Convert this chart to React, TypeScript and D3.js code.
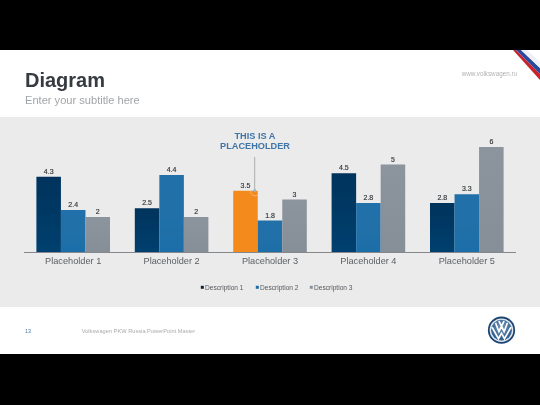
import React from "react";
import * as d3 from "d3";

const categories = ["Placeholder 1", "Placeholder 2", "Placeholder 3", "Placeholder 4", "Placeholder 5"];
const seriesNames = ["Description 1", "Description 2", "Description 3"];
const desc1 = [4.3, 2.5, 3.5, 4.5, 2.8];
const desc2 = [2.4, 4.4, 1.8, 2.8, 3.3];
const desc3 = [2, 2, 3, 5, 6];
const seriesValues = [desc1, desc2, desc3];
const seriesFill = ["url(#navy)", "url(#blue)", "url(#gray)"];
const legendColors = ["#0f2438", "#1f6ca6", "#8a929c"];
const highlightIndex = 2;

const sans = "'Liberation Sans', Arial, sans-serif";

export default function App() {
  const x0 = d3.scaleBand<string>().domain(categories).range([24, 516]).paddingInner(0.252).paddingOuter(0.126);
  const x1 = d3.scaleBand<number>().domain([0, 1, 2]).range([0, x0.bandwidth()]);
  const y = d3.scaleLinear().domain([0, 6]).range([252, 147]);
  const legendX = [205, 260, 314];

  return (
    <svg width={540} height={405} viewBox="0 0 540 405" style={{ position: "absolute", left: 0, top: 0, fontFamily: sans }}>
      <defs>
        <linearGradient id="navy" x1="0" y1="0" x2="0" y2="1">
          <stop offset="0" stopColor="#04335c" />
          <stop offset="1" stopColor="#03406f" />
        </linearGradient>
        <linearGradient id="blue" x1="0" y1="0" x2="0" y2="1">
          <stop offset="0" stopColor="#2170a9" />
          <stop offset="1" stopColor="#1f6ea8" />
        </linearGradient>
        <linearGradient id="gray" x1="0" y1="0" x2="0" y2="1">
          <stop offset="0" stopColor="#8c949e" />
          <stop offset="1" stopColor="#868e98" />
        </linearGradient>
        <radialGradient id="vwInner" cx="0.5" cy="0.35" r="0.75">
          <stop offset="0" stopColor="#6f93b8" />
          <stop offset="1" stopColor="#1f4f82" />
        </radialGradient>
        <filter id="soft" x="-2%" y="-2%" width="104%" height="104%">
          <feGaussianBlur stdDeviation="0.4" />
        </filter>
      </defs>

      <rect x={0} y={0} width={540} height={405} fill="#000" />
      <rect x={0} y={50} width={540} height={304} fill="#fff" />
      <rect x={0} y={117} width={540} height={190} fill="#ebebeb" />

      <g filter="url(#soft)">
        <text x={25} y={87} fontSize={20} fontWeight={700} fill="#353b40">Diagram</text>
        <text x={25} y={103.5} fontSize={11.1} fill="#a2a5a8">Enter your subtitle here</text>
        <text x={517} y={75.5} fontSize={6.3} textAnchor="end" fill="#b0b2b4">www.volkswagen.ru</text>

        <polygon points="513,50 516,50 540,74 540,80" fill="#c8232c" />
        <polygon points="516,50 521,50 540,68 540,74" fill="#2a4a9c" />
        <polygon points="521,50 527,50 540,62 540,68" fill="#eef0f6" />

        {categories.map((c, i) => (
          <g key={c}>
            {seriesValues.map((vals, s) => {
              const left = x0(c)! + x1(s)!;
              const fill = i === highlightIndex && s === 0 ? "#f58a1f" : seriesFill[s];
              return (
                <g key={s}>
                  <rect x={left} y={y(vals[i])} width={x1.bandwidth()} height={y(0) - y(vals[i])} fill={fill} />
                  <text x={left + x1.bandwidth() / 2} y={y(vals[i]) - 3} fontSize={7} textAnchor="middle" fill="#2e3236" stroke="#2e3236" strokeWidth={0.15}>
                    {vals[i]}
                  </text>
                </g>
              );
            })}
            <text x={x0(c)! + x0.bandwidth() / 2} y={263.5} fontSize={9.2} textAnchor="middle" fill="#5a5f63">{c}</text>
          </g>
        ))}
        <line x1={24} x2={516} y1={252.5} y2={252.5} stroke="#85898d" strokeWidth={1} />

        <text x={255} y={139} fontSize={9.2} fontWeight={700} textAnchor="middle" fill="#3f75a8">THIS IS A</text>
        <text x={255} y={148.5} fontSize={9.2} fontWeight={700} textAnchor="middle" fill="#3f75a8">PLACEHOLDER</text>
        <line x1={254.7} x2={254.7} y1={157} y2={190} stroke="#a8acb0" strokeWidth={1} />
        <circle cx={254.7} cy={190.5} r={1.4} fill="#9fb6cc" />
        <path d="M250.5,191.5 A4.5,4.5 0 0 0 257.5,195" fill="none" stroke="#fff" strokeWidth={0.6} strokeDasharray="1 0.8" />

        {seriesNames.map((n, i) => (
          <g key={n}>
            <rect x={legendX[i] - 4.2} y={285.8} width={3} height={3} fill={legendColors[i]} />
            <text x={legendX[i]} y={289.8} fontSize={6.6} fill="#55595d">{n}</text>
          </g>
        ))}

        <text x={25} y={333} fontSize={5.4} fill="#4a78a8">13</text>
        <text x={81.7} y={333} fontSize={5.7} fill="#a9abad">Volkswagen PKW Russia PowerPoint Master</text>

        <g transform="translate(501.5,330.2)">
          <circle r={13.6} fill="#1c4472" />
          <circle r={11.8} fill="#dfe6ee" />
          <circle r={10.4} fill="url(#vwInner)" />
          <path d="M-6,-7.5 L-2.6,1.5 L0,-4 L2.6,1.5 L6,-7.5 M-9.5,-3 L-3,8.5 L0,3 L3,8.5 L9.5,-3 M-2.6,-9 L0,-4 L2.6,-9" fill="none" stroke="#fff" strokeWidth={1.7} />
        </g>
      </g>
    </svg>
  );
}
